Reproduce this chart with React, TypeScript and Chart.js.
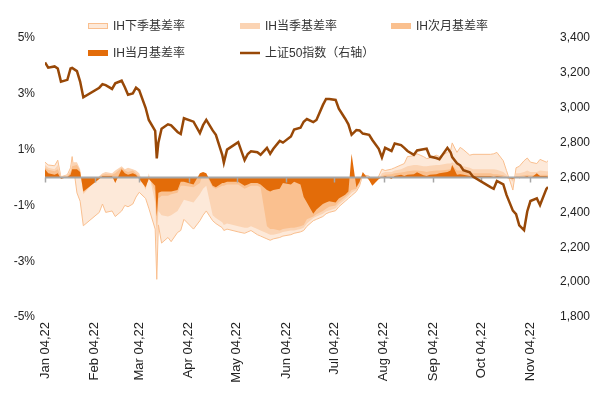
import React, { useEffect, useRef } from "react";
import { Chart, registerables } from "chart.js";

Chart.register(...registerables);

// Trading dates (2022)
const dates = [
  "01-04","01-06","01-10","01-12","01-14","01-18","01-20","01-21","01-24","01-26","01-28",
  "02-07","02-09","02-11","02-15","02-17","02-21","02-23","02-25","02-28",
  "03-02","03-04","03-08","03-10","03-14","03-15","03-16","03-18","03-22","03-24","03-28","03-30",
  "04-01","04-07","04-11","04-13","04-15","04-19","04-21","04-25","04-26","04-28",
  "05-05","05-09","05-11","05-13","05-17","05-19","05-23","05-25","05-27","05-31",
  "06-02","06-07","06-09","06-13","06-15","06-17","06-21","06-23","06-27","06-29",
  "07-01","07-05","07-07","07-11","07-13","07-15","07-18","07-20","07-22","07-26","07-28",
  "08-01","08-03","08-05","08-09","08-11","08-15","08-17","08-19","08-23","08-25","08-29","08-31",
  "09-02","09-06","09-08","09-13","09-15","09-16","09-19","09-21","09-23","09-27","09-29",
  "10-10","10-12","10-14","10-18","10-20","10-24","10-26","10-28","10-31",
  "11-02","11-04","11-08","11-10","11-14","11-15",
];

// 上证50指数 (right axis)
const sse50 = [
  3260,3230,3237,3225,3150,3160,3225,3228,3210,3150,3060,
  3115,3135,3130,3108,3140,3155,3118,3075,3082,
  3115,3100,3000,2930,2868,2710,2800,2880,2905,2899,2861,2850,
  2940,2920,2855,2900,2930,2870,2845,2730,2685,2760,
  2803,2700,2735,2750,2745,2730,2770,2736,2765,2810,
  2800,2835,2875,2885,2920,2935,2918,2930,3015,3050,
  3050,3045,2995,2937,2905,2845,2872,2870,2852,2845,2815,
  2765,2715,2770,2752,2795,2786,2770,2752,2730,2755,2762,2765,
  2720,2712,2705,2770,2745,2717,2682,2670,2642,2630,2605,
  2545,2535,2580,2560,2500,2410,2390,2325,2298,
  2405,2465,2480,2442,2535,2545,
];

// IH下季基差率 (%)
const ihXiaJi = [
  0.55,0.45,0.42,0.62,0.02,0.10,0.35,0.75,-0.55,-0.85,-1.73,
  -1.25,-0.95,-1.25,-1.20,-1.40,-1.20,-1.00,-1.05,-0.95,
  -0.70,-0.53,-0.75,-1.10,-1.85,-3.65,-1.70,-2.35,-2.15,-2.30,-1.97,-1.90,
  -1.50,-1.85,-1.55,-1.35,-1.20,-1.55,-1.65,-1.80,-1.90,-1.85,
  -1.95,-2.00,-1.95,-1.90,-2.05,-2.10,-2.20,-2.25,-2.20,-2.15,
  -2.10,-2.05,-2.00,-1.95,-1.90,-1.75,-1.55,-1.50,-1.40,-1.30,
  -1.25,-1.19,-1.05,-0.85,-0.75,-0.65,-0.50,-0.30,0.10,0.05,-0.20,
  0.05,0.30,0.25,0.30,0.35,0.45,0.50,0.75,0.78,0.85,0.75,0.68,
  0.70,0.80,0.75,0.90,0.97,1.24,0.90,1.08,1.00,0.80,0.83,
  0.83,0.85,0.90,0.60,0.25,-0.45,0.35,0.40,0.60,
  0.70,0.55,0.50,0.65,0.55,0.60,
];

// IH当季基差率 (%)
const ihDangJi = [
  0.45,0.35,0.30,0.45,0.05,0.08,0.25,0.55,0.55,0.30,-0.60,
  0.05,0.15,0.20,0.15,0.25,0.40,0.30,0.35,0.30,
  0.25,0.15,-0.45,0.15,-0.90,-2.40,-1.20,-1.35,-1.40,-1.35,-1.20,-1.00,
  -0.80,-0.90,-0.60,-0.40,-0.30,-1.35,-1.45,-1.60,-1.70,-1.65,
  -1.75,-1.80,-1.80,-1.75,-1.85,-1.90,-2.00,-2.05,-2.05,-2.00,
  -1.95,-1.90,-1.90,-1.85,-1.80,-1.65,-1.45,-1.40,-1.30,-1.22,
  -1.18,-1.10,-0.98,-0.78,-0.68,-0.55,-0.45,-0.25,0.05,-0.05,-0.25,
  -0.05,0.15,0.20,0.20,0.25,0.30,0.35,0.40,0.45,0.45,0.40,0.40,
  0.42,0.45,0.45,0.50,0.50,0.55,0.45,0.45,0.40,0.35,0.30,
  0.30,0.30,0.28,0.20,0.10,-0.15,0.15,0.15,0.20,
  0.25,0.20,0.20,0.25,0.22,0.22,
];

// IH次月基差率 (%)
const ihCiYue = [
  0.35,0.28,0.22,0.30,0.02,0.05,0.18,0.40,0.45,0.25,-0.55,
  0.03,0.10,0.12,0.10,0.15,0.35,0.25,0.20,0.25,
  0.15,0.05,-0.40,0.05,-0.50,-1.80,-0.75,-0.65,-0.65,-0.60,-0.55,-0.30,
  -0.30,-0.35,-0.20,0.15,0.10,-0.35,-0.40,-0.30,-0.30,-0.25,
  -0.25,-0.40,-0.35,-0.30,-0.30,-0.35,-1.75,-1.85,-1.85,-1.90,
  -1.85,-1.80,-1.80,-1.75,-1.70,-1.50,-1.40,-1.32,-1.20,-1.12,
  -1.05,-1.00,-0.88,-0.70,-0.60,-0.45,-0.40,-0.20,0.15,-0.08,-0.28,
  -0.05,0.05,0.10,0.12,0.15,0.18,0.20,0.22,0.25,0.25,0.22,0.20,
  0.22,0.25,0.25,0.28,0.30,0.45,0.25,0.25,0.22,0.18,0.15,
  0.15,0.12,0.12,0.08,0.03,-0.08,0.05,0.05,0.08,
  0.10,0.08,0.08,0.10,0.10,0.08,
];

// IH当月基差率 (%)
const ihDangYue = [
  0.30,0.15,0.10,0.15,-0.05,0.02,0.10,0.30,0.30,0.20,-0.50,
  -0.05,0.05,0.05,0.05,-0.20,0.30,0.15,0.10,0.15,
  0.10,-0.05,-0.35,-0.05,-0.30,-1.40,-0.55,-0.50,-0.50,-0.50,-0.45,-0.15,
  -0.15,-0.25,0.15,0.20,0.15,-0.30,-0.35,-0.20,-0.20,-0.15,
  -0.15,-0.30,-0.25,-0.20,-0.20,-0.25,-0.45,-0.50,-0.45,-0.40,
  -0.20,-0.25,-0.15,-0.25,-0.70,-0.90,-1.30,-1.15,-0.95,-0.90,
  -0.85,-0.90,-0.75,-0.62,-0.50,0.85,-0.35,-0.15,0.20,-0.10,-0.30,
  -0.05,0.00,0.05,-0.05,0.05,0.10,0.05,0.10,0.12,0.19,0.08,0.05,
  0.10,0.12,0.15,0.20,0.25,0.45,0.10,0.12,0.10,0.05,0.05,
  0.05,0.02,0.05,0.02,-0.02,-0.05,0.02,-0.03,0.02,
  0.05,-0.03,0.15,0.05,0.05,0.03,
];

// x-axis tick dates and labels
const tickDates = ["01-04","02-04","03-04","04-04","05-04","06-04","07-04","08-04","09-04","10-04","11-04"];
const tickLabels = ["Jan 04,22","Feb 04,22","Mar 04,22","Apr 04,22","May 04,22","Jun 04,22","Jul 04,22","Aug 04,22","Sep 04,22","Oct 04,22","Nov 04,22"];
const lastDate = "11-15";

const legendNames = ["IH下季基差率", "IH当季基差率", "IH次月基差率", "IH当月基差率", "上证50指数（右轴）"];

const C_XIAJI = "#FDE9D9";
const C_XIAJI_BORDER = "#F9BF8F";
const C_DANGJI = "#FBD4B4";
const C_CIYUE = "#FAC08F";
const C_DANGYUE = "#E36C09";
const C_INDEX = "#984807";

const dayOf = (md: string) => {
  const [m, d] = md.split("-").map(Number);
  return (Date.UTC(2022, m - 1, d) - Date.UTC(2022, 0, 4)) / 86400000;
};

const toPts = (vals: number[]) => dates.map((d, i) => ({ x: dayOf(d), y: vals[i] }));

const FONT = '"Liberation Sans", Arial, "Noto Sans CJK SC", sans-serif';

export default function App() {
  const ref = useRef<HTMLCanvasElement | null>(null);

  useEffect(() => {
    const canvas = ref.current;
    if (!canvas) return;
    const tickDays = tickDates.map(dayOf);

    const zeroLinePlugin = {
      id: "zeroLine",
      afterDatasetDraw(chart: any, args: any) {
        if (args.index !== 1) return;
        const ctx = chart.ctx;
        const ys = chart.scales.y;
        const xs = chart.scales.x;
        const y0 = ys.getPixelForValue(0);
        const { left, right } = chart.chartArea;
        ctx.save();
        ctx.strokeStyle = "#A6A6A6";
        ctx.lineWidth = 2;
        ctx.beginPath();
        ctx.moveTo(left, y0);
        ctx.lineTo(right, y0);
        ctx.stroke();
        ctx.lineWidth = 1.5;
        tickDays.forEach((d) => {
          const x = Math.round(xs.getPixelForValue(d)) + 0.5;
          ctx.beginPath();
          ctx.moveTo(x, y0);
          ctx.lineTo(x, y0 + 5);
          ctx.stroke();
        });
        ctx.restore();
      },
    };

    const legendPlugin = {
      id: "customLegend",
      afterDraw(chart: any) {
        const ctx = chart.ctx;
        ctx.save();
        ctx.font = '12px "Liberation Sans", Arial, "Noto Sans CJK SC", sans-serif';
        ctx.textBaseline = "middle";
        const cols = [88, 240, 391];
        const rows = [26, 53];
        const items = [
          { col: 0, row: 0, fill: C_XIAJI, border: C_XIAJI_BORDER, type: "box" },
          { col: 1, row: 0, fill: C_DANGJI, border: null, type: "box" },
          { col: 2, row: 0, fill: C_CIYUE, border: null, type: "box" },
          { col: 0, row: 1, fill: C_DANGYUE, border: null, type: "box" },
          { col: 1, row: 1, fill: C_INDEX, border: null, type: "line" },
        ];
        items.forEach((it, i) => {
          const x = cols[it.col];
          const y = rows[it.row];
          if (it.type === "box") {
            ctx.fillStyle = it.fill;
            ctx.fillRect(x, y - 3, 20, 6);
            if (it.border) {
              ctx.strokeStyle = it.border;
              ctx.lineWidth = 1;
              ctx.strokeRect(x + 0.5, y - 2.5, 19, 5);
            }
          } else {
            ctx.strokeStyle = it.fill;
            ctx.lineWidth = 2.5;
            ctx.beginPath();
            ctx.moveTo(x, y);
            ctx.lineTo(x + 20, y);
            ctx.stroke();
          }
          ctx.fillStyle = "#333333";
          ctx.fillText(legendNames[i], x + 25, y + 1);
        });
        ctx.restore();
      },
    };

    const areaDs = (label: string, vals: number[], color: string, order: number, border?: string) => ({
      type: "line" as const,
      label,
      data: toPts(vals),
      yAxisID: "y",
      backgroundColor: color,
      borderColor: border || "rgba(0,0,0,0)",
      borderWidth: border ? 1 : 0,
      pointRadius: 0,
      fill: "origin",
      tension: 0,
      order,
    });

    const chart = new Chart(canvas, {
      type: "line",
      data: {
        datasets: [
          {
            label: legendNames[4],
            data: toPts(sse50),
            yAxisID: "y1",
            borderColor: C_INDEX,
            borderWidth: 2.5,
            pointRadius: 0,
            fill: false,
            tension: 0,
            order: 0,
          },
          areaDs(legendNames[3], ihDangYue, C_DANGYUE, 1),
          areaDs(legendNames[2], ihCiYue, C_CIYUE, 2),
          areaDs(legendNames[1], ihDangJi, C_DANGJI, 3),
          areaDs(legendNames[0], ihXiaJi, C_XIAJI, 4, C_XIAJI_BORDER),
        ] as any,
      },
      options: {
        responsive: false,
        animation: false,
        devicePixelRatio: 1,
        layout: { padding: { top: 38, left: 0, right: 0, bottom: 0 } },
        plugins: {
          legend: { display: false },
          tooltip: { enabled: false },
          title: { display: false },
        },
        scales: {
          x: {
            type: "linear",
            min: 0,
            max: dayOf(lastDate),
            grid: { display: false, drawTicks: false },
            border: { display: false },
            afterFit(s: any) {
              s.height = 81;
            },
            afterBuildTicks(s: any) {
              s.ticks = tickDays.map((v) => ({ value: v }));
            },
            ticks: {
              autoSkip: false,
              minRotation: 90,
              maxRotation: 90,
              padding: 5,
              color: "#222",
              font: { family: FONT, size: 13 },
              callback: (v: any) => {
                const i = tickDays.indexOf(Number(v));
                return i >= 0 ? tickLabels[i] : "";
              },
            },
          },
          y: {
            position: "left",
            min: -5,
            max: 5,
            grid: { display: false, drawTicks: false },
            border: { display: false },
            afterFit(s: any) {
              s.width = 45;
            },
            ticks: {
              stepSize: 2,
              padding: 10,
              color: "#222",
              font: { family: FONT, size: 12 },
              callback: (v: any) => `${v}%`,
            },
          },
          y1: {
            position: "right",
            min: 1800,
            max: 3400,
            grid: { display: false, drawTicks: false },
            border: { display: false },
            afterFit(s: any) {
              s.width = 65;
            },
            ticks: {
              stepSize: 200,
              padding: 12,
              color: "#222",
              font: { family: FONT, size: 12 },
              callback: (v: any) => Number(v).toLocaleString("en-US"),
            },
          },
        },
      } as any,
      plugins: [zeroLinePlugin, legendPlugin],
    });

    return () => chart.destroy();
  }, []);

  return (
    <div style={{ position: "fixed", left: 0, top: 0, width: 613, height: 398, background: "#fff" }}>
      <canvas ref={ref} width={613} height={398} style={{ display: "block" }} />
    </div>
  );
}
